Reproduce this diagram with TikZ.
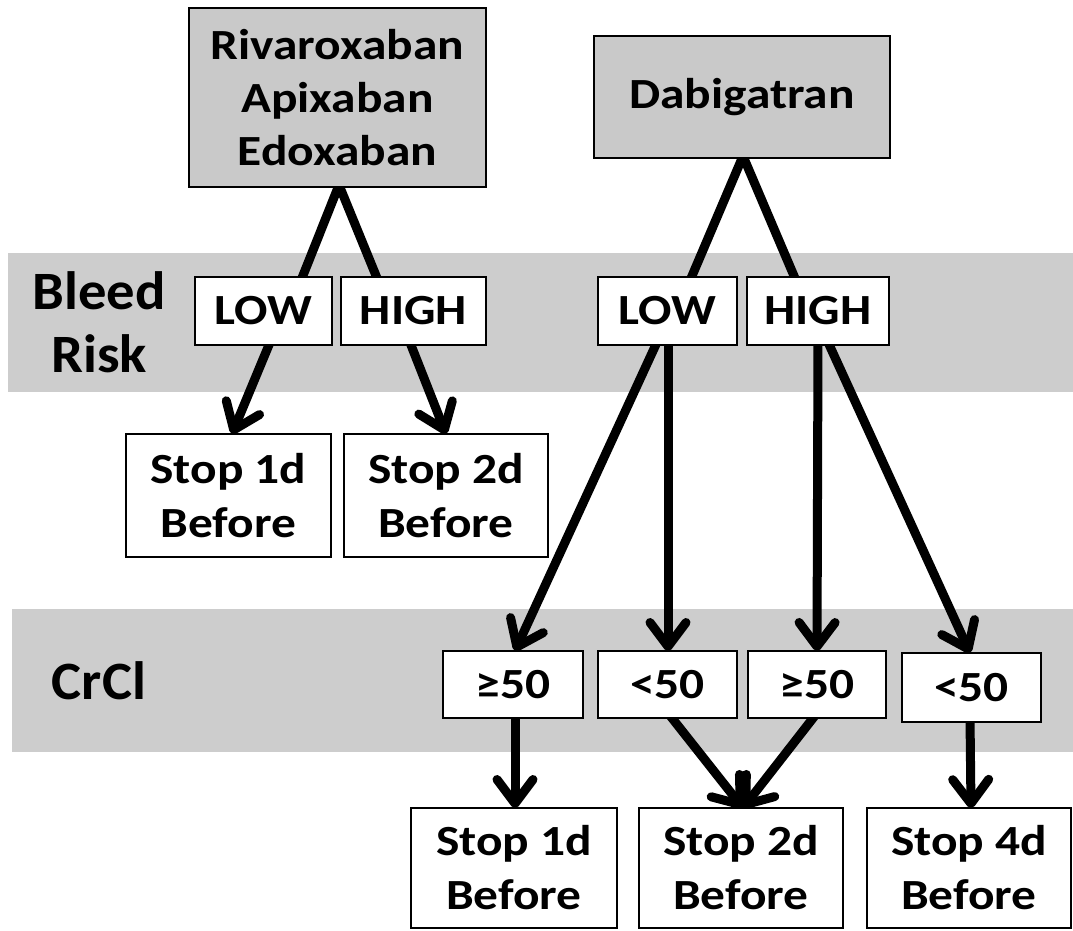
\documentclass[tikz,border=0pt]{standalone}
\usepackage{fontspec}
\setmainfont{Carlito}
\newfontfamily\boxfont{Carlito}[FakeStretch=1.15]
\newfontfamily\labfont{Carlito}[FakeStretch=1.05]
\usetikzlibrary{arrows.meta}
\definecolor{bandgray}{HTML}{CDCDCD}
\definecolor{boxgray}{HTML}{C9C9C9}
\pgfdeclarelayer{bg}
\pgfdeclarelayer{mid}
\pgfsetlayers{bg,mid,main}
\begin{document}
\begin{tikzpicture}[x=1pt,y=-1pt,
  box/.style={draw=black, line width=1.6pt, fill=white, inner sep=0pt, outer sep=0pt,
    anchor=north west, align=center, font=\boxfont\bfseries\fontsize{43}{54}\selectfont},
  drug/.style={box, fill=boxgray},
  lab/.style={align=center, inner sep=0pt, font=\labfont\bfseries\fontsize{54}{63}\selectfont},
  conn/.style={line width=9pt, line join=miter},
  arr/.style={line width=9pt, -{Straight Barb[length=24pt,width=36pt,round]}}
]
\useasboundingbox (0,0) rectangle (1073,931);

% drug boxes
\node[drug, minimum width=297pt, minimum height=179pt, font=\boxfont\bfseries\fontsize{43}{53}\selectfont] (riv) at (189,8) {Rivaroxaban\\Apixaban\\Edoxaban};
\node[drug, minimum width=296pt, minimum height=122pt] (dab) at (594,36) {Dabigatran};

% bleed risk boxes
\node[box, minimum width=137pt, minimum height=68pt] (lowL) at (195,277) {LOW};
\node[box, minimum width=145pt, minimum height=68pt] (highL) at (341,277) {HIGH};
\node[box, minimum width=139pt, minimum height=68pt] (lowR) at (598,277) {LOW};
\node[box, minimum width=142pt, minimum height=68pt] (highR) at (747,277) {HIGH};

% left outcome boxes
\node[box, minimum width=205pt, minimum height=123pt] (s1L) at (126,434) {Stop 1d\\Before};
\node[box, minimum width=204pt, minimum height=123pt] (s2L) at (344,434) {Stop 2d\\Before};

% CrCl boxes
\node[box, minimum width=140pt, minimum height=67pt] (ge1) at (443,651) {≥50};
\node[box, minimum width=139pt, minimum height=67pt] (lt1) at (598,651) {<50};
\node[box, minimum width=138pt, minimum height=67pt] (ge2) at (748,651) {≥50};
\node[box, minimum width=139pt, minimum height=69pt] (lt2) at (902,653) {<50};

% bottom outcome boxes
\node[box, minimum width=206pt, minimum height=120pt] (b1) at (411,808) {Stop 1d\\Before};
\node[box, minimum width=204pt, minimum height=120pt] (b2) at (639,808) {Stop 2d\\Before};
\node[box, minimum width=204pt, minimum height=120pt] (b3) at (867,808) {Stop 4d\\Before};

% row labels
\node[lab] (bleed) at (99,322) {Bleed\\Risk};
\node[lab] (crcl) at (99,681) {CrCl};

\begin{pgfonlayer}{bg}
  \fill[white] (0,0) rectangle (1073,931);
  \fill[bandgray] (8,253) rectangle (1073,392);
  \fill[bandgray] (12,609) rectangle (1073,752);
\end{pgfonlayer}

\begin{pgfonlayer}{mid}
  \draw[conn] ([xshift=36.5pt,yshift=-6pt]lowL.north) -- ([xshift=1.5pt,yshift=2pt]riv.south) -- ([xshift=-34.5pt,yshift=-6pt]highL.north);
  \draw[conn] ([xshift=21.5pt,yshift=-6pt]lowR.north) -- ([xshift=1pt,yshift=2pt]dab.south) -- ([xshift=-21pt,yshift=-6pt]highR.north);

  \draw[arr] ([xshift=7.5pt,yshift=5pt]lowL.south) -- ([xshift=3.5pt]s1L.north);
  \draw[arr] ([xshift=-4.5pt,yshift=5pt]highL.south) -- (s2L.north);

  \draw[arr] ([xshift=-9.5pt,yshift=5pt]lowR.south) -- ([xshift=2pt]ge1.north);
  \draw[arr] ([xshift=0.5pt,yshift=5pt]lowR.south) -- ([xshift=0.5pt]lt1.north);
  \draw[arr] ([yshift=5pt]highR.south) -- (ge2.north);
  \draw[arr] ([xshift=9pt,yshift=5pt]highR.south) -- ([xshift=-1.5pt]lt2.north);

  \draw[arr] ([xshift=2pt,yshift=5pt]ge1.south) -- ([xshift=1pt]b1.north);
  \draw[arr] ([xshift=0.5pt,yshift=5pt]lt1.south) -- ([xshift=2pt]b2.north);
  \draw[arr] ([yshift=5pt]ge2.south) -- ([xshift=2pt]b2.north);
  \draw[arr] ([xshift=-1.5pt,yshift=5pt]lt2.south) -- ([xshift=2pt]b3.north);
\end{pgfonlayer}
\end{tikzpicture}
\end{document}
